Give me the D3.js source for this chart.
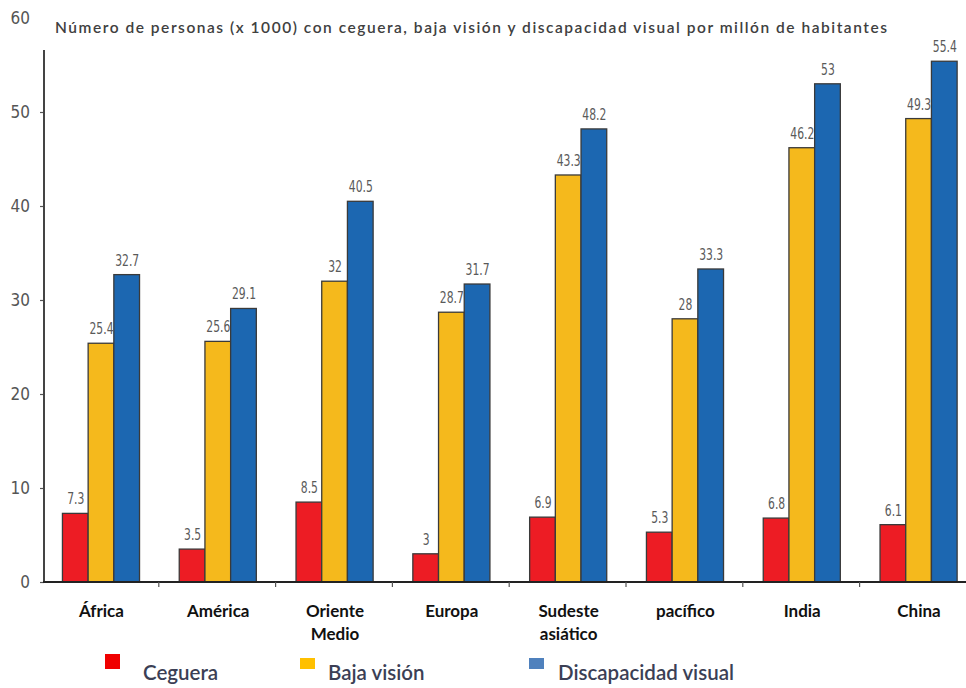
<!DOCTYPE html>
<html>
<head>
<meta charset="utf-8">
<script src="https://cdn.jsdelivr.net/npm/d3@7"></script>
<style>
  html, body { margin: 0; padding: 0; background: #fff; }
  svg { display: block; }
</style>
</head>
<body>
<svg id="chart" width="966" height="688"></svg>
<script>
// Regions and the three measures per region (thousands of people per million inhabitants)
const categories = [["África"], ["América"], ["Oriente", "Medio"], ["Europa"], ["Sudeste", "asiático"], ["pacífico"], ["India"], ["China"]];
const seriesNames = ["Ceguera", "Baja visión", "Discapacidad visual"];
const ceguera = [7.3, 3.5, 8.5, 3, 6.9, 5.3, 6.8, 6.1];
const bajaVision = [25.4, 25.6, 32, 28.7, 43.3, 28, 46.2, 49.3];
const discapacidad = [32.7, 29.1, 40.5, 31.7, 48.2, 33.3, 53, 55.4];
const yTicks = [0, 10, 20, 30, 40, 50, 60];
const title = "Número de personas (x 1000) con ceguera, baja visión y discapacidad visual por millón de habitantes";

const barColors = ["#ED1C24", "#F5B91C", "#1C67B1"];
const legendColors = ["#F00000", "#FFC000", "#4F81BD"];

const svg = d3.select("#chart");
const catKeys = categories.map(c => c.join(" "));
const values = [ceguera, bajaVision, discapacidad];

const y = d3.scaleLinear().domain([0, 60]).range([582, 18]);
const x0 = d3.scaleBand().domain(catKeys).range([42, 42 + 8 * 116.8]).padding(0);
const bw = x0.bandwidth();
const x1 = d3.scaleBand().domain(seriesNames).range([bw * 0.175, bw * 0.835]).padding(0);

const narrow = "'DejaVu Sans Condensed', 'Liberation Sans Narrow', sans-serif";
const humanist = "Lato, 'Open Sans', sans-serif";

// Title
svg.append("text")
  .attr("x", 55).attr("y", 33)
  .attr("font-family", humanist)
  .attr("font-weight", 600)
  .attr("font-size", 15.5)
  .attr("fill", "#404040")
  .attr("textLength", 832)
  .attr("lengthAdjust", "spacing")
  .text(title);

// Bars
const groups = svg.append("g").selectAll("g")
  .data(catKeys)
  .join("g")
  .attr("transform", d => `translate(${x0(d)},0)`);

groups.selectAll("rect")
  .data((d, i) => seriesNames.map((s, j) => ({ s, j, v: values[j][i] })))
  .join("rect")
  .attr("x", d => x1(d.s))
  .attr("y", d => y(d.v))
  .attr("width", x1.bandwidth())
  .attr("height", d => y(0) - y(d.v))
  .attr("fill", d => barColors[d.j])
  .attr("stroke", "#3a3a3a")
  .attr("stroke-width", 1.3);

// Value labels, horizontally squeezed like a narrow face
groups.selectAll("text.val")
  .data((d, i) => seriesNames.map((s, j) => ({ s, j, v: values[j][i] })))
  .join("text")
  .attr("class", "val")
  .attr("transform", d => `translate(${x1(d.s) + x1.bandwidth() / 2 + 0.5},${y(d.v) - 9}) scale(0.8,1)`)
  .attr("text-anchor", "middle")
  .attr("font-family", narrow)
  .attr("font-size", 15)
  .attr("fill", "#5a5a5a")
  .text(d => d.v);

// Y axis
const yAxis = svg.append("g")
  .attr("transform", `translate(44,0)`)
  .call(d3.axisLeft(y).tickValues(yTicks).tickSize(4).tickPadding(10).tickFormat(d3.format("d")));
yAxis.select(".domain").remove();
yAxis.selectAll(".tick line").attr("stroke", "#555").attr("stroke-width", 1.2)
  .filter(d => d === 60).remove();
yAxis.selectAll(".tick text")
  .attr("font-family", narrow)
  .attr("font-size", 17)
  .attr("fill", "#555");
yAxis.append("line")
  .attr("x1", 0).attr("x2", 0)
  .attr("y1", y(56.6)).attr("y2", y(0) + 1)
  .attr("stroke", "#444").attr("stroke-width", 2);

// X axis
const xAxis = svg.append("g").attr("transform", `translate(0,${y(0)})`);
xAxis.append("line")
  .attr("x1", 43).attr("x2", 966)
  .attr("stroke", "#222").attr("stroke-width", 2);
xAxis.selectAll("line.tick")
  .data(catKeys.slice(1))
  .join("line")
  .attr("class", "tick")
  .attr("x1", d => x0(d)).attr("x2", d => x0(d))
  .attr("y1", 0).attr("y2", 5)
  .attr("stroke", "#555").attr("stroke-width", 1.2);

// Category labels
const catLabels = svg.append("g").selectAll("text")
  .data(categories)
  .join("text")
  .attr("x", (d, i) => x0(catKeys[i]) + bw / 2 + 1)
  .attr("y", 617)
  .attr("text-anchor", "middle")
  .attr("font-family", humanist)
  .attr("font-weight", "bold")
  .attr("font-size", 17)
  .attr("fill", "#111");
catLabels.selectAll("tspan")
  .data(d => d)
  .join("tspan")
  .attr("x", function () { return d3.select(this.parentNode).attr("x"); })
  .attr("dy", (d, i) => i === 0 ? 0 : 23)
  .text(d => d);

// Legend
const legendX = [105, 300, 529];
const legend = svg.append("g").selectAll("g")
  .data(seriesNames)
  .join("g")
  .attr("transform", (d, i) => `translate(${legendX[i]},0)`);
legend.append("rect")
  .attr("x", 0).attr("y", (d, i) => i === 0 ? 654 : 658)
  .attr("width", 15).attr("height", (d, i) => i === 0 ? 15 : 11)
  .attr("fill", (d, i) => legendColors[i]);
legend.append("text")
  .attr("x", (d, i) => i === 0 ? 38 : i === 1 ? 28 : 29)
  .attr("y", 680)
  .attr("font-family", humanist)
  .attr("font-weight", 600)
  .attr("font-size", 20.5)
  .attr("fill", "#3b3f55")
  .text(d => d);
</script>
</body>
</html>
